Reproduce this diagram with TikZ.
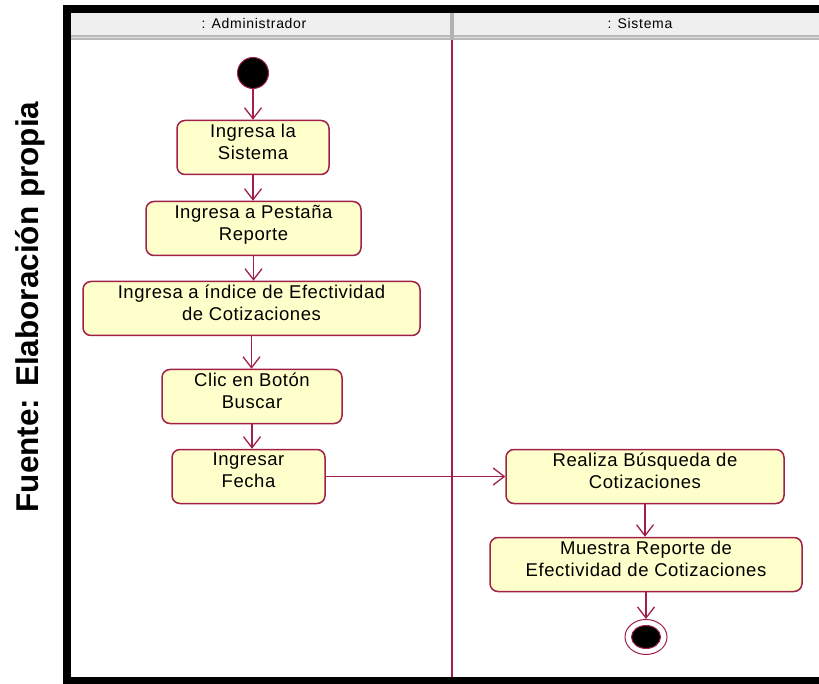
\documentclass[tikz,border=0pt]{standalone}
\usepackage{fontspec}
\setmainfont{Liberation Sans}
\newfontfamily\actfont[LetterSpace=3]{Liberation Sans}
\newfontfamily\lanefont[LetterSpace=5]{Liberation Sans}
\usetikzlibrary{arrows.meta, shapes.geometric}

\definecolor{umlline}{RGB}{160,32,72}
\definecolor{umlfill}{RGB}{255,255,204}
\definecolor{lanehead}{RGB}{239,239,239}

\tikzset{
    action/.style={draw=umlline, fill=umlfill, line width=1.5pt, rounded corners=8pt,
        align=center, minimum height=54pt, inner sep=2pt, text depth=12pt,
        font=\actfont\fontsize{18.5}{22}\selectfont},
    flow/.style={draw=umlline, line width=1.3pt,
        -{Straight Barb[length=11pt,width=17pt,line width=1.3pt]}},
    lanetitle/.style={font=\lanefont\fontsize{14}{16}\selectfont},
}

\begin{document}
\begin{tikzpicture}[x=1pt,y=-1pt]
    \useasboundingbox (0,0) rectangle (819,684);

    % swimlane headers
    \fill[lanehead] (71,13) rectangle (819,35);
    \fill[gray!55] (71,35) rectangle (819,40);
    \draw[gray!25, line width=1pt] (71,37.5) -- (819,37.5);
    \fill[gray!60] (450,13) rectangle (454,40);
    \node[lanetitle] (admin) at (254,24) {: Administrador};
    \node[lanetitle] (sistemalane) at (640,24) {: Sistema};
    \draw[umlline, line width=1.5pt] (452,40) -- (452,677);

    % frame
    \fill[black] (63,5) rectangle (819,13);
    \fill[black] (63,5) rectangle (71,684);
    \fill[black] (63,677) rectangle (819,684);

    \node[rotate=90, font=\bfseries\fontsize{31.5}{36}\selectfont] (fuente) at (30,307) {Fuente: Elaboración propia};

    % actions
    \node[circle, fill=black, draw=umlline, line width=1pt, minimum size=31pt, inner sep=0pt] (start) at (253,73) {};
    \node[action, minimum width=152pt] (sistema) at (253,147.5) {Ingresa la\\Sistema};
    \node[action, minimum width=215pt] (pestana) at (253.5,228.5) {Ingresa a Pestaña\\Reporte};
    \node[action, minimum width=337pt] (indice) at (251.5,308.5) {Ingresa a índice de Efectividad\\de Cotizaciones};
    \node[action, minimum width=180pt] (buscar) at (252,396.5) {Clic en Botón\\Buscar};
    \node[action, minimum width=153pt] (fecha) at (248.5,476.5) {Ingresar\\Fecha};
    \node[action, minimum width=278pt] (busqueda) at (645,476.5) {Realiza Búsqueda de\\Cotizaciones};
    \node[action, minimum width=312pt] (muestra) at (646,564.5) {Muestra Reporte de\\Efectividad de Cotizaciones};
    \node[ellipse, fill=white, draw=umlline, line width=1pt, minimum width=42pt, minimum height=35pt, inner sep=0pt] (fin) at (646,637) {};
    \node[ellipse, fill=black, draw=umlline, line width=1pt, minimum width=29pt, minimum height=23pt, inner sep=0pt] (finin) at (fin) {};

    % transitions
    \foreach \a/\b in {start/sistema, sistema/pestana, pestana/indice, indice/buscar, buscar/fecha, busqueda/muestra, muestra/fin}
        \draw[flow] (\a.south) -- (\a.south |- \b.north);
    \draw[flow] (fecha.east) -- (busqueda.west);
\end{tikzpicture}
\end{document}
